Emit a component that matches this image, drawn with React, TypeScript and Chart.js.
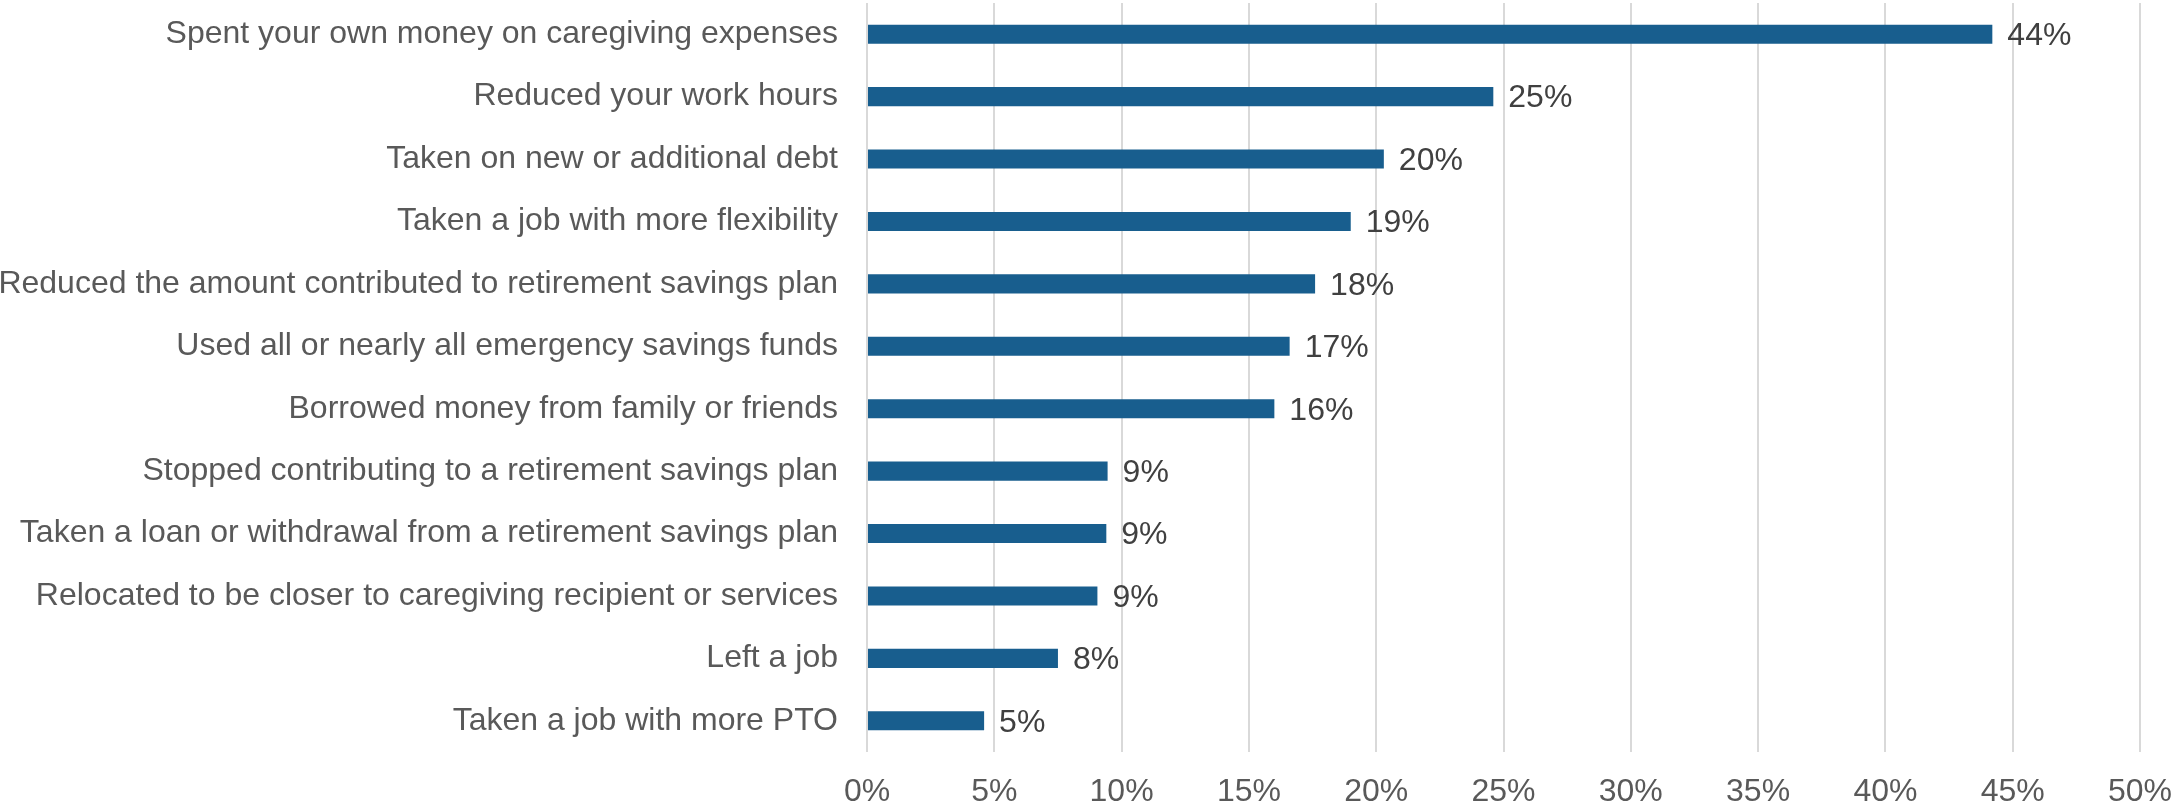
import React, { useEffect, useRef } from "react";
import { Chart, registerables } from "chart.js";

Chart.register(...registerables);

const categories: string[] = [
  "Spent your own money on caregiving expenses",
  "Reduced your work hours",
  "Taken on new or additional debt",
  "Taken a job with more flexibility",
  "Reduced the amount contributed to retirement savings plan",
  "Used all or nearly all emergency savings funds",
  "Borrowed money from family or friends",
  "Stopped contributing to a retirement savings plan",
  "Taken a loan or withdrawal from a retirement savings plan",
  "Relocated to be closer to caregiving recipient or services",
  "Left a job",
  "Taken a job with more PTO",
];

// Share of respondents (percent)
const shares: number[] = [44.2, 24.6, 20.3, 19.0, 17.6, 16.6, 16.0, 9.45, 9.4, 9.05, 7.5, 4.6];

const xTickValues: number[] = [0, 5, 10, 15, 20, 25, 30, 35, 40, 45, 50];

const FONT = "'Liberation Sans', Arial, sans-serif";
const FONT_SIZE = 32;

const valueLabels = {
  id: "valueLabels",
  afterDatasetsDraw(chart: any) {
    const ctx = chart.ctx;
    const meta = chart.getDatasetMeta(0);
    ctx.save();
    ctx.font = `${FONT_SIZE}px ${FONT}`;
    ctx.fillStyle = "#404040";
    ctx.textAlign = "left";
    ctx.textBaseline = "middle";
    meta.data.forEach((bar: any, i: number) => {
      const v = chart.data.datasets[0].data[i] as number;
      ctx.fillText(`${Math.round(v)}%`, bar.x + 15, bar.y + 2);
    });
    ctx.restore();
  },
};

export default function App() {
  const canvasRef = useRef<HTMLCanvasElement | null>(null);

  useEffect(() => {
    document.body.style.margin = "0";
    const canvas = canvasRef.current;
    if (!canvas) return;
    const chart = new Chart(canvas, {
      type: "bar",
      data: {
        labels: categories,
        datasets: [
          {
            data: shares,
            backgroundColor: "#185E8E",
            borderWidth: 0,
            barPercentage: 0.305,
            categoryPercentage: 1,
          },
        ],
      },
      options: {
        indexAxis: "y",
        animation: false,
        responsive: false,
        maintainAspectRatio: false,
        layout: { padding: { top: 3, right: 33, left: 0, bottom: 0 } },
        plugins: {
          legend: { display: false },
          tooltip: { enabled: false },
        },
        scales: {
          x: {
            min: 0,
            max: 50,
            afterBuildTicks: (scale: any) => {
              scale.ticks = xTickValues.map((v) => ({ value: v }));
            },
            afterFit: (scale: any) => {
              scale.height = 55;
              scale.paddingLeft = 0;
              scale.paddingRight = 0;
            },
            ticks: {
              callback: (v: any) => `${v}%`,
              color: "#595959",
              font: { family: FONT, size: FONT_SIZE },
              padding: 21,
              maxRotation: 0,
              autoSkip: false,
            },
            grid: {
              color: "#D9D9D9",
              lineWidth: 2,
              drawTicks: false,
            },
            border: { display: false },
          },
          y: {
            afterFit: (scale: any) => {
              scale.width = 867;
              scale.paddingTop = 0;
              scale.paddingBottom = 0;
            },
            ticks: {
              color: "#595959",
              font: { family: FONT, size: FONT_SIZE },
              padding: 29,
              autoSkip: false,
            },
            grid: { display: false, drawTicks: false },
            border: { display: false },
          },
        },
      },
      plugins: [valueLabels],
    });
    return () => chart.destroy();
  }, []);

  return (
    <div style={{ width: 2173, height: 807 }}>
      <canvas ref={canvasRef} width={2173} height={807} />
    </div>
  );
}
